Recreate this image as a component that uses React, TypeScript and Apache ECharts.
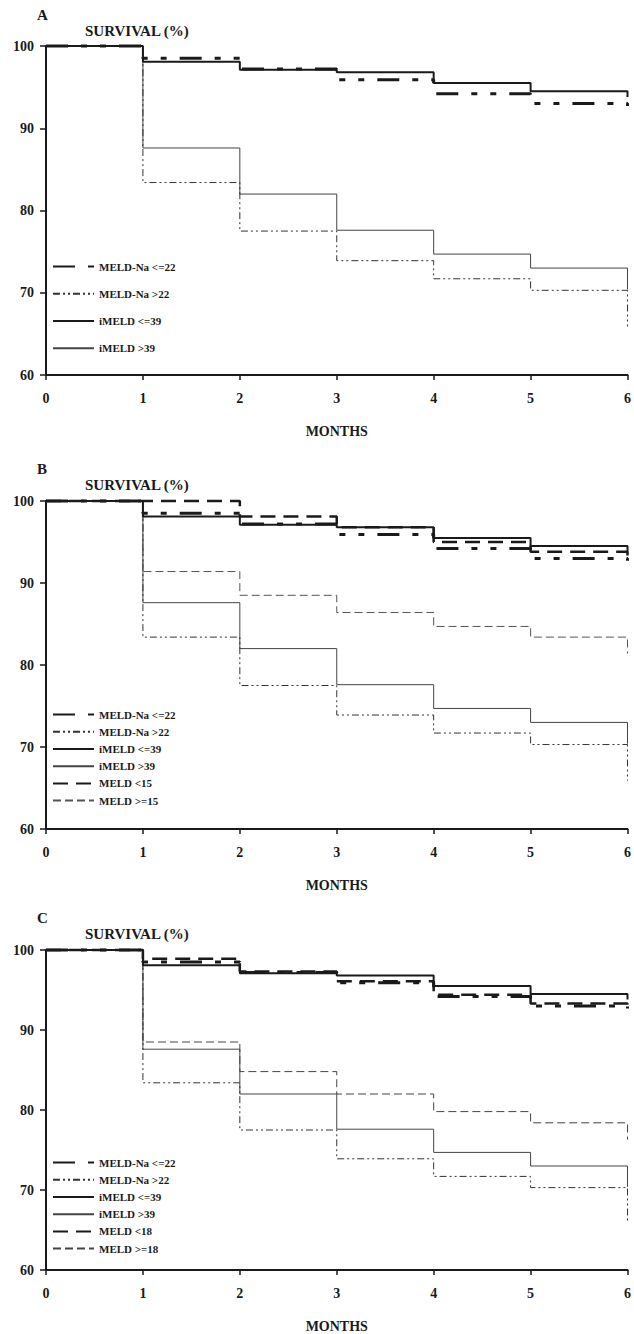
import React, { useEffect, useRef } from "react";
import * as echarts from "echarts";

// Months of follow-up
const months = [0, 1, 2, 3, 4, 5, 6];
const xTicks = [0, 1, 2, 3, 4, 5, 6];
const yTicks = [60, 70, 80, 90, 100];

// Kaplan-Meier survival (%) at each month (value holds until next month)
const meldNaLow = [100, 98.5, 97.2, 95.9, 94.2, 93.0, 92.7];
const meldNaHigh = [100, 83.4, 77.5, 73.9, 71.7, 70.3, 65.9];
const imeldLow = [100, 98.1, 97.1, 96.8, 95.5, 94.5, 93.8];
const imeldHigh = [100, 87.6, 82.0, 77.6, 74.7, 73.0, 70.4];
const meld15Low = [100, 100, 98.1, 96.8, 95.0, 93.8, 93.3];
const meld15High = [100, 91.4, 88.5, 86.4, 84.7, 83.4, 81.4];
const meld18Low = [100, 98.9, 97.3, 96.1, 94.4, 93.3, 92.8];
const meld18High = [100, 88.5, 84.8, 82.0, 79.8, 78.4, 76.3];

const panelLetters = ["A", "B", "C"];
const namesA = ["MELD-Na <=22", "MELD-Na >22", "iMELD <=39", "iMELD >39"];
const namesB = [...namesA, "MELD <15", "MELD >=15"];
const namesC = [...namesA, "MELD <18", "MELD >=18"];

const FONT = "'Liberation Serif', 'DejaVu Serif', serif";
const INK = "#1a1a1a";

const styles: Record<string, any> = {
  "MELD-Na <=22": { color: INK, width: 3, type: [22, 13, 6, 13, 6, 13] },
  "MELD-Na >22": { color: "#333", width: 1, type: [7, 3, 2, 3, 2, 3] },
  "iMELD <=39": { color: INK, width: 2, type: "solid" },
  "iMELD >39": { color: "#444", width: 1, type: "solid" },
  "MELD <15": { color: INK, width: 2.5, type: [15, 8] },
  "MELD >=15": { color: "#555", width: 1, type: [8, 4] },
  "MELD <18": { color: INK, width: 2.5, type: [15, 8] },
  "MELD >=18": { color: "#444", width: 1, type: [8, 4] },
};

const grids = [
  { top: 46, height: 329 },
  { top: 501, height: 328 },
  { top: 950, height: 327 },
];

export default function App() {
  const ref = useRef<HTMLDivElement>(null);
  useEffect(() => {
    document.body.style.margin = "0";
    const chart = echarts.init(ref.current!, null, { renderer: "svg" });

    const mk = (name: string, values: number[], gi: number) => ({
      name,
      type: "line",
      step: "end",
      xAxisIndex: gi,
      yAxisIndex: gi,
      symbol: "none",
      clip: false,
      silent: true,
      lineStyle: {
        color: styles[name].color,
        width: styles[name].width,
        type: styles[name].type,
      },
      itemStyle: { color: styles[name].color },
      data: months.map((m, i) => [m, values[i]]),
    });

    const series: any[] = [];
    for (let g = 0; g < 3; g++) {
      series.push(mk("iMELD >39", imeldHigh, g));
      series.push(mk("MELD-Na >22", meldNaHigh, g));
    }
    series.push(mk("MELD >=15", meld15High, 1));
    series.push(mk("MELD >=18", meld18High, 2));
    for (let g = 0; g < 3; g++) {
      series.push(mk("iMELD <=39", imeldLow, g));
    }
    series.push(mk("MELD <15", meld15Low, 1));
    series.push(mk("MELD <18", meld18Low, 2));
    for (let g = 0; g < 3; g++) {
      series.push(mk("MELD-Na <=22", meldNaLow, g));
    }

    const axisLabel = { color: INK, fontFamily: FONT, fontWeight: "bold", fontSize: 14 };

    const legendBase = {
      orient: "vertical",
      left: 52,
      padding: 0,
      itemWidth: 41,
      itemHeight: 14,
      selectedMode: false,
      itemStyle: { opacity: 0, borderWidth: 0 },
      textStyle: { color: INK, fontFamily: FONT, fontWeight: "bold", fontSize: 11, padding: [0, 0, 0, 0] },
    };

    const graphic: any[] = [];
    const letterY = [15, 469, 918];
    const survY = [31, 485, 934];
    for (let g = 0; g < 3; g++) {
      graphic.push({
        type: "text",
        left: 37,
        top: letterY[g] - 8,
        style: { text: panelLetters[g], fill: INK, font: `bold 15px ${FONT}` },
      });
      graphic.push({
        type: "text",
        left: 85,
        top: survY[g] - 8,
        style: { text: "SURVIVAL (%)", fill: INK, font: `bold 15px ${FONT}` },
      });
    }

    chart.setOption({
      animation: false,
      backgroundColor: "#ffffff",
      grid: grids.map((g) => ({ left: 46, right: 2, top: g.top, height: g.height })),
      xAxis: grids.map((_, i) => ({
        type: "value",
        gridIndex: i,
        min: xTicks[0],
        max: xTicks[xTicks.length - 1],
        interval: 1,
        name: "MONTHS",
        nameLocation: "middle",
        nameGap: 49,
        nameTextStyle: { color: INK, fontFamily: FONT, fontWeight: "bold", fontSize: 14 },
        axisLine: { show: true, onZero: false, lineStyle: { color: INK, width: 2 } },
        axisTick: { show: true, length: 5, lineStyle: { color: INK, width: 1.5 } },
        axisLabel: { ...axisLabel, margin: 16 },
        splitLine: { show: false },
      })),
      yAxis: grids.map((_, i) => ({
        type: "value",
        gridIndex: i,
        min: yTicks[0],
        max: yTicks[yTicks.length - 1],
        interval: 10,
        axisLine: { show: true, onZero: false, lineStyle: { color: INK, width: 2 } },
        axisTick: { show: true, length: 6, lineStyle: { color: INK, width: 1.5 } },
        axisLabel: { ...axisLabel, margin: 12 },
        splitLine: { show: false },
      })),
      legend: [
        { ...legendBase, top: 261, itemGap: 16, data: namesA },
        { ...legendBase, top: 709, itemGap: 6, data: namesB },
        { ...legendBase, top: 1157, itemGap: 6, data: namesC },
      ],
      graphic,
      series,
    });
    return () => chart.dispose();
  }, []);
  return (
    <div
      ref={ref}
      style={{ position: "absolute", left: 0, top: 0, width: 634, height: 1334, background: "#fff" }}
    />
  );
}
